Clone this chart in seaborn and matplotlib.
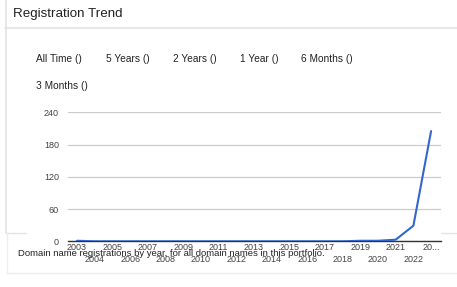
import matplotlib
matplotlib.use("Agg")
import matplotlib.pyplot as plt
from matplotlib.lines import Line2D
import seaborn as sns
import pandas as pd

years = list(range(2003, 2024))
registrations = [1, 0, 0, 0, 0, 0, 0, 0, 0, 0, 0, 0, 0, 0, 0, 0, 1, 1, 3, 29, 205]
y_ticks = [0, 60, 120, 180, 240]
odd_labels = ["2003", "2005", "2007", "2009", "2011", "2013", "2015", "2017", "2019", "2021", "20..."]
even_labels = ["2004", "2006", "2008", "2010", "2012", "2014", "2016", "2018", "2020", "2022"]
filters = ["All Time ()", "5 Years ()", "2 Years ()", "1 Year ()", "6 Months ()", "3 Months ()"]
title = "Registration Trend"
caption = "Domain name registrations by year, for all domain names in this portfolio."

sns.set_style("white")
plt.rcParams["font.family"] = ["Liberation Sans", "DejaVu Sans"]

W, H = 457, 287
fig = plt.figure(figsize=(W / 100, H / 100), dpi=100)

def fx(x):
    return x / W

def fy(y):
    return 1 - y / H

# card decorations
border = "#e3e3e3"
fig.add_artist(Line2D([fx(5), fx(457)], [fy(28), fy(28)], color=border, lw=1.2))
fig.add_artist(Line2D([fx(5.5), fx(5.5)], [fy(0), fy(233)], color=border, lw=1.2))
fig.add_artist(Line2D([fx(5.5), fx(26)], [fy(233), fy(233)], color=border, lw=1.0))
fig.add_artist(Line2D([fx(441), fx(457)], [fy(233), fy(233)], color=border, lw=1.0))
fig.add_artist(Line2D([fx(6.5), fx(6.5)], [fy(233), fy(273)], color="#eeeeee", lw=1.0))
fig.add_artist(Line2D([fx(6.5), fx(457)], [fy(273), fy(273)], color="#eeeeee", lw=1.0))

fig.text(fx(13), fy(14), title, fontsize=9.6, color="#222222", va="center", ha="left")

fpos = [(36, 59), (106, 59), (173, 59), (240, 59), (301, 59), (36, 86)]
for lab, (x, y) in zip(filters, fpos):
    fig.text(fx(x), fy(y), lab, fontsize=7.3, color="#222222", va="center", ha="left")

left, right, top, bottom = 68, 441, 112.3, 241.3
ax = fig.add_axes([fx(left), fy(bottom), fx(right - left), (bottom - top) / H])

df = pd.DataFrame({"year": years, "count": registrations})
sns.lineplot(data=df, x="year", y="count", ax=ax, color="#3366cc", linewidth=1.5)

ax.set_xlim(2002.49, 2023.56)
ax.set_ylim(0, 240)
ax.set_yticks(y_ticks)
ax.set_yticklabels([str(v) for v in y_ticks])
ax.yaxis.grid(True, color="#cccccc", linewidth=0.9)
ax.set_axisbelow(True)
for s in ["top", "right", "left"]:
    ax.spines[s].set_visible(False)
ax.spines["bottom"].set_color("#333333")
ax.spines["bottom"].set_linewidth(1.0)
ax.spines["bottom"].set_zorder(1)

ax.set_xticks(years[0::2])
ax.set_xticklabels(odd_labels)
ax.set_xticks(years[1::2], minor=True)
ax.set_xticklabels(even_labels, minor=True)
ax.tick_params(axis="x", which="major", length=0, pad=1.2, labelsize=6.5, labelcolor="#444444")
ax.tick_params(axis="x", which="minor", length=0, pad=10, labelsize=6.5, labelcolor="#444444")
ax.tick_params(axis="y", length=0, pad=6.5, labelsize=6.5, labelcolor="#444444")
ax.set_xlabel("")
ax.set_ylabel("")

fig.text(fx(18), fy(254), caption, fontsize=6.8, color="#222222", va="center", ha="left")

fig.savefig("out.png", dpi=100, facecolor="white")
